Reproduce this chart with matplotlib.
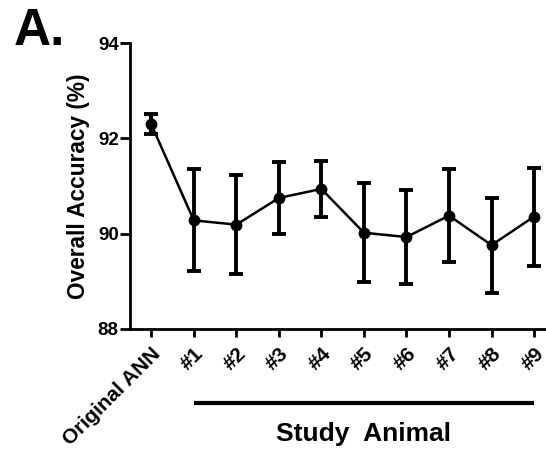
import matplotlib
matplotlib.use("Agg")
import matplotlib.pyplot as plt
import matplotlib.transforms as mtransforms

plt.rcParams['font.family'] = ['Liberation Sans', 'DejaVu Sans']
plt.rcParams['font.weight'] = 'bold'

# data
labels = ['Original ANN', '#1', '#2', '#3', '#4', '#5', '#6', '#7', '#8', '#9']
accuracy = [92.30, 90.28, 90.19, 90.75, 90.94, 90.02, 89.93, 90.38, 89.76, 90.36]
err = [0.21, 1.07, 1.04, 0.75, 0.59, 1.04, 0.98, 0.97, 1.00, 1.03]
y_ticks = [88, 90, 92, 94]

fig = plt.figure(figsize=(5.46, 4.50), dpi=100)
ax = fig.add_axes([0.238, 0.269, 0.762, 0.635])

x = list(range(len(labels)))
ax.plot(x, accuracy, color='black', lw=1.8, zorder=2)
ax.errorbar(x, accuracy, yerr=err, fmt='o', color='black', ms=7.5,
            elinewidth=2.8, capsize=5, capthick=2.8, zorder=3)

ax.set_xlim(-0.5, 9.28)
ax.set_ylim(88, 94)
ax.set_yticks(y_ticks)
ax.set_xticks(x)
ax.set_xticklabels(labels, rotation=45, ha='right', rotation_mode='anchor',
                   fontsize=15, fontweight='bold')

ax.spines['top'].set_visible(False)
ax.spines['right'].set_visible(False)
ax.spines['left'].set_linewidth(2)
ax.spines['bottom'].set_linewidth(2)
ax.tick_params(axis='y', length=7, width=2, pad=1, labelsize=13.5)
ax.tick_params(axis='x', length=6, width=2, pad=5)

ax.set_ylabel('Overall Accuracy (%)', fontsize=16.3, fontweight='bold', labelpad=6)

# bar under the study animals
trans = mtransforms.blended_transform_factory(ax.transData, ax.transAxes)
ax.plot([1, 9], [-0.26, -0.26], color='black', lw=3, transform=trans,
        clip_on=False, solid_capstyle='butt')
ax.text(5, -0.325, 'Study  Animal', transform=trans, ha='center', va='top',
        fontsize=19, fontweight='bold')

fig.text(0.025, 0.985, 'A.', fontsize=37, fontweight='bold', va='top', ha='left')

fig.savefig('out.png', dpi=100)
